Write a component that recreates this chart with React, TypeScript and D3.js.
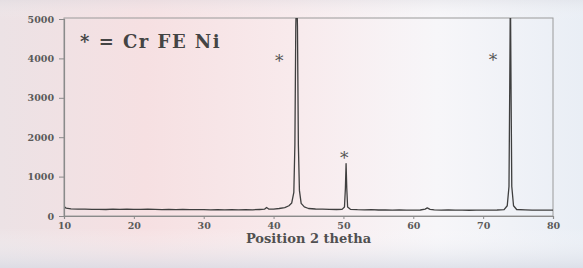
import * as React from "react"
import { scaleLinear, line, select, axisLeft, axisBottom } from "d3"

// diffraction pattern: 2 theta (deg) and counts
const theta = [
  10, 10.3, 11, 12, 13, 14, 15, 16, 17, 18, 19, 20, 21, 22, 23, 24, 25, 26, 27, 28, 29, 30,
  31, 32, 33, 34, 35, 36, 37, 38, 38.7, 39, 39.3, 40, 40.8, 41.6, 42.2, 42.6, 42.9, 43.05,
  43.18, 43.3, 43.42, 43.55, 43.7, 43.95, 44.4, 45, 46, 47, 48, 49, 49.8, 50.15, 50.28, 50.38,
  50.48, 50.6, 51, 52, 53, 54, 55, 56, 57, 58, 59, 60, 61, 61.7, 62, 62.4, 63, 64, 65, 66, 67,
  68, 69, 70, 71, 72, 73, 73.45, 73.7, 73.8, 73.9, 74.0, 74.1, 74.35, 74.8, 76, 77, 78, 79, 80,
]
const counts = [
  240, 200, 180, 172, 176, 168, 170, 165, 172, 168, 175, 170, 166, 172, 168, 163, 168, 162, 165, 160, 164, 160,
  158, 162, 157, 160, 156, 162, 158, 165, 172, 215, 178, 175, 190, 215, 260, 330, 600, 1800,
  4800, 5800, 4800, 1800, 650, 320, 230, 190, 178, 172, 168, 165, 168, 230, 700, 1330,
  700, 230, 170, 162, 158, 160, 152, 155, 150, 152, 148, 150, 152, 175, 205, 170, 155, 150, 152, 148, 150,
  146, 150, 148, 150, 152, 160, 260, 750, 3100, 5800, 3100, 750, 260, 165, 155, 150, 148, 150, 150,
]

const xTicks = [10, 20, 30, 40, 50, 60, 70, 80]
const yTicks = [0, 1000, 2000, 3000, 4000, 5000]

// peak markers "*"
const starTheta = [40.8, 50.1, 71.4]
const starCounts = [4000, 1560, 4030]

const legendText = "* = Cr FE Ni"
const xTitle = "Position 2 thetha"

const W = 583
const H = 268
const margin = { top: 18, right: 30, bottom: 52, left: 64 }
const serif = "'DejaVu Serif', serif"

export default function App() {
  const axRef = React.useRef<SVGGElement>(null)

  const x = scaleLinear()
    .domain([10, 80])
    .range([margin.left, W - margin.right])
  const y = scaleLinear()
    .domain([0, 5000])
    .range([H - margin.bottom, margin.top + 1])

  const pts = theta.map((t, i) => [t, counts[i]] as [number, number])
  const path = line<[number, number]>()
    .x((d) => x(d[0]))
    .y((d) => y(d[1]))(pts)

  React.useEffect(() => {
    document.body.style.margin = "0"
    const g = select(axRef.current)
    g.selectAll("*").remove()

    const yAx = g
      .append("g")
      .attr("transform", `translate(${margin.left},0)`)
      .call(axisLeft(y).tickValues(yTicks).tickFormat((d) => String(d)).tickSize(5).tickPadding(5))
    const xAx = g
      .append("g")
      .attr("transform", `translate(0,${H - margin.bottom})`)
      .call(axisBottom(x).tickValues(xTicks).tickFormat((d) => String(d)).tickSize(3).tickPadding(3))

    for (const a of [yAx, xAx]) {
      a.select(".domain").attr("stroke", "#8a8a8a").attr("stroke-width", 1.2)
      a.selectAll(".tick line").attr("stroke", "#8a8a8a")
      a.selectAll(".tick text")
        .attr("fill", "#5a5a5a")
        .style("font-family", serif)
        .style("font-weight", "bold")
        .style("font-size", "9.5px")
    }
  }, [])

  return (
    <svg width={W} height={H} style={{ display: "block" }}>
      <defs>
        <linearGradient id="bgH" x1="0" x2="1" y1="0" y2="0">
          <stop offset="0" stopColor="#ece2e5" />
          <stop offset="0.25" stopColor="#f6e0e2" />
          <stop offset="0.5" stopColor="#f8eaec" />
          <stop offset="0.75" stopColor="#f7f6f9" />
          <stop offset="1" stopColor="#e9eef5" />
        </linearGradient>
        <linearGradient id="bgV" x1="0" x2="0" y1="0" y2="1">
          <stop offset="0" stopColor="#d8d8de" stopOpacity="0.35" />
          <stop offset="0.08" stopColor="#ffffff" stopOpacity="0" />
          <stop offset="0.85" stopColor="#ffffff" stopOpacity="0" />
          <stop offset="1" stopColor="#d6dae4" stopOpacity="0.7" />
        </linearGradient>
        <clipPath id="plot">
          <rect
            x={margin.left}
            y={margin.top}
            width={W - margin.left - margin.right}
            height={H - margin.top - margin.bottom}
          />
        </clipPath>
      </defs>
      <rect width={W} height={H} fill="url(#bgH)" />
      <rect width={W} height={H} fill="url(#bgV)" />

      {/* frame */}
      <rect
        x={margin.left}
        y={margin.top}
        width={W - margin.left - margin.right}
        height={H - margin.top - margin.bottom}
        fill="none"
        stroke="#9a9a9a"
        strokeWidth={1}
      />

      <path
        d={path ?? ""}
        fill="none"
        stroke="#3f3f3f"
        strokeWidth={1.3}
        strokeLinejoin="round"
        clipPath="url(#plot)"
      />

      <g ref={axRef} />

      {starTheta.map((t, i) => (
        <text
          key={i}
          x={x(t)}
          y={y(starCounts[i]) + 9}
          textAnchor="middle"
          fontFamily={serif}
          fontSize={17}
          fill="#555"
        >
          *
        </text>
      ))}

      <text
        x={80}
        y={48}
        fontFamily={serif}
        fontWeight="bold"
        fontSize={18}
        fill="#444"
        letterSpacing={1.5}
        style={{ whiteSpace: "pre" }}
      >
        {legendText}
      </text>

      <text
        x={x(45)}
        y={243}
        textAnchor="middle"
        fontFamily={serif}
        fontWeight="bold"
        fontSize={13}
        fill="#505050"
      >
        {xTitle}
      </text>
    </svg>
  )
}
